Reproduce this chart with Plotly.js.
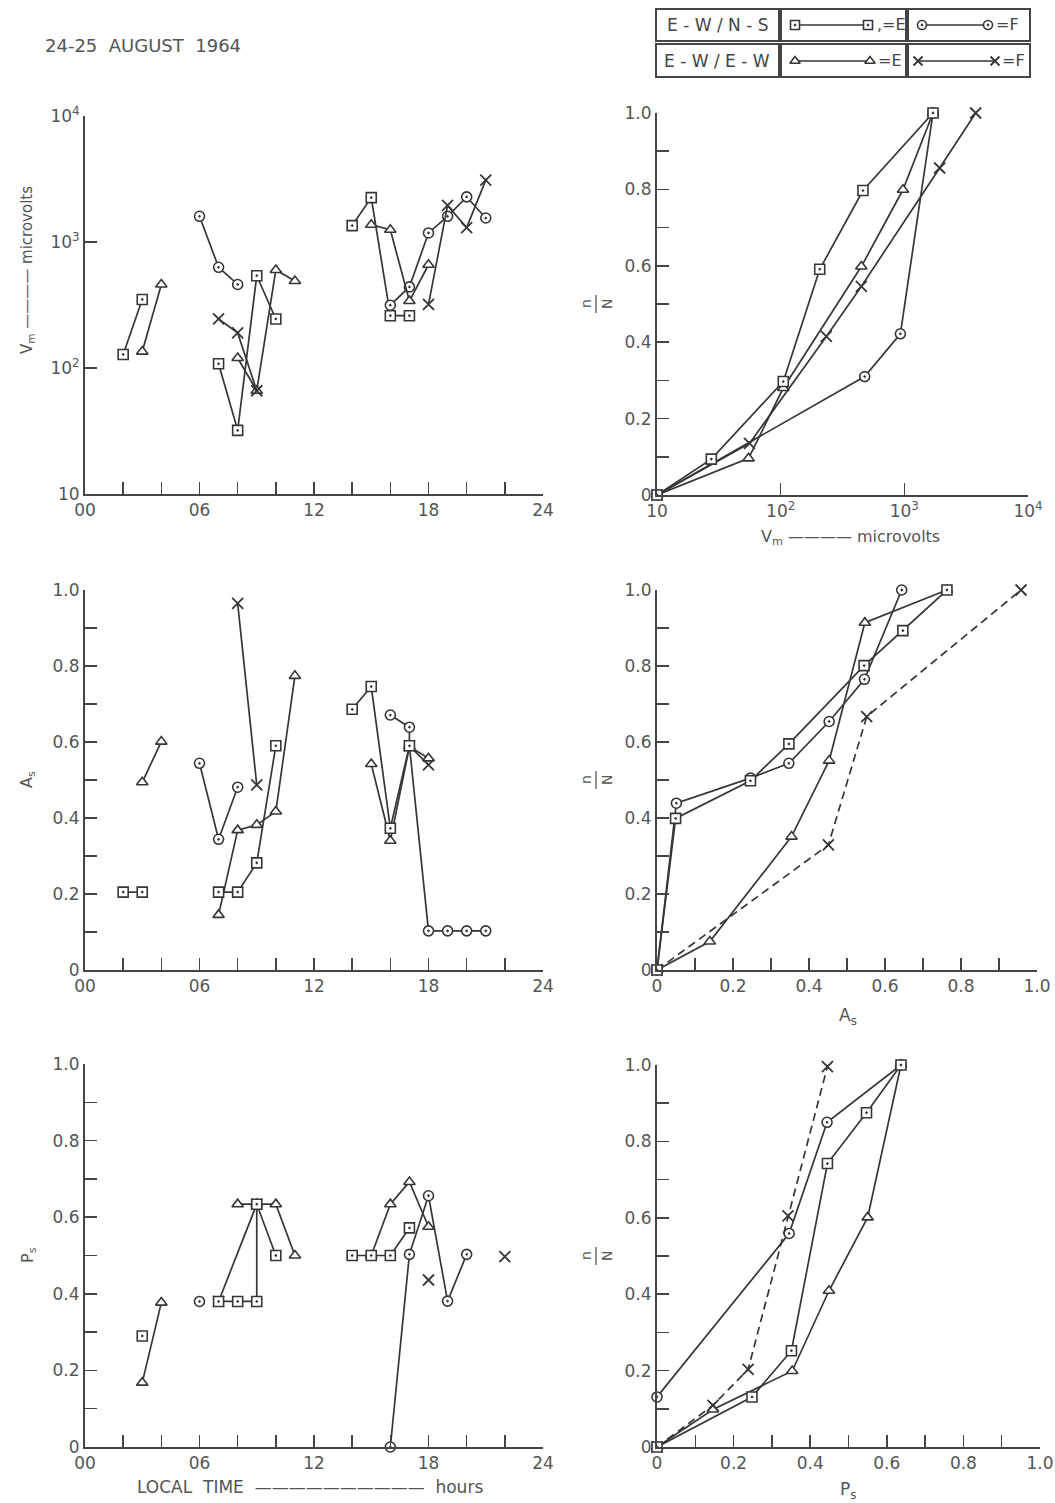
<!DOCTYPE html>
<html>
<head>
<meta charset="utf-8">
<script src="https://cdn.plot.ly/plotly-3.0.1.min.js"></script>
<style>html,body{margin:0;padding:0;background:#fff}#chart{width:1055px;height:1503px}</style>
</head>
<body>
<div id="chart"></div>
<script>
// ---------------- DATA ----------------
// Panel 1: Vm (microvolts) vs local time (hours); null = break between runs
const vmSqHours = [2, 3, null, 7, 8, 9, 10, null, 14, 15, 16, 17];
const vmSqVals  = [128, 350, null, 108, 32, 540, 245, null, 1350, 2250, 260, 260];
const vmCiHours = [6, 7, 8, null, 16, 17, 18, 19, 20, 21];
const vmCiVals  = [1600, 630, 460, null, 315, 440, 1180, 1600, 2280, 1550];
const vmTrHours = [3, 4, null, 8, 9, 10, 11, null, 15, 16, 17, 18];
const vmTrVals  = [135, 460, null, 120, 66, 600, 490, null, 1370, 1250, 340, 660];
const vmXHours  = [7, 8, 9, null, 18, 19, 20, 21];
const vmXVals   = [245, 190, 66, null, 320, 1950, 1300, 3100];

// Panel 2: cumulative n/N vs Vm
const cdfVmSqX = [10, 27.5, 105, 207, 463, 1706];
const cdfVmSqY = [0, 0.094, 0.297, 0.591, 0.797, 1.0];
const cdfVmCiX = [10, 478, 929, 1706];
const cdfVmCiY = [0, 0.31, 0.422, 1.0];
const cdfVmTrX = [10, 55, 105, 449, 975, 1706];
const cdfVmTrY = [0, 0.096, 0.28, 0.598, 0.799, 1.0];
const cdfVmXX  = [10, 56, 234, 449, 1930, 3775];
const cdfVmXY  = [0, 0.135, 0.415, 0.546, 0.856, 1.0];

// Panel 3: As vs local time
const asSqHours = [2, 3, null, 7, 8, 9, 10, null, 14, 15, 16, 17];
const asSqVals  = [0.205, 0.205, null, 0.205, 0.205, 0.282, 0.59, null, 0.686, 0.746, 0.373, 0.59];
const asCiHours = [6, 7, 8, null, 16, 17, 17, 18, 19, 20, 21];
const asCiVals  = [0.544, 0.344, 0.481, null, 0.671, 0.639, 0.59, 0.103, 0.103, 0.103, 0.103];
const asTrHours = [3, 4, null, 7, 8, 9, 10, 11, null, 15, 16, 17, 18];
const asTrVals  = [0.494, 0.601, null, 0.145, 0.368, 0.382, 0.417, 0.774, null, 0.542, 0.34, 0.588, 0.557];
const asXHours  = [8, 9, null, 17, 18];
const asXVals   = [0.965, 0.487, null, 0.59, 0.54];

// Panel 4: cumulative n/N vs As
const cdfAsSqX = [0, 0.049, 0.246, 0.347, 0.545, 0.647, 0.763];
const cdfAsSqY = [0, 0.399, 0.498, 0.595, 0.801, 0.893, 1.0];
const cdfAsCiX = [0, 0.051, 0.246, 0.347, 0.453, 0.546, 0.644];
const cdfAsCiY = [0, 0.439, 0.505, 0.544, 0.654, 0.765, 1.0];
const cdfAsTrX = [0, 0.139, 0.354, 0.453, 0.547, 0.763];
const cdfAsTrY = [0, 0.075, 0.351, 0.551, 0.914, 1.0];
const cdfAsXX  = [0, 0.451, 0.552, 0.958];
const cdfAsXY  = [0, 0.329, 0.667, 1.0];

// Panel 5: Ps vs local time
const psSqHours = [3, null, 7, 8, 9, 9, 10, null, 14, 15, 16, 17];
const psSqVals  = [0.29, null, 0.38, 0.38, 0.38, 0.634, 0.5, null, 0.5, 0.5, 0.5, 0.572];
const psCiHours = [6, null, 16, 17, 18, 19, 20];
const psCiVals  = [0.38, null, 0, 0.503, 0.656, 0.381, 0.503];
const psTrHours = [3, 4, null, 8, 9, 10, 11, null, 15, 16, 17, 18];
const psTrVals  = [0.168, 0.377, null, 0.634, 0.634, 0.634, 0.5, null, 0.5, 0.634, 0.692, 0.575];
const psXHours  = [7, 9, null, 18, null, 22];
const psXVals   = [0.38, 0.634, null, 0.436, null, 0.497];

// Panel 6: cumulative n/N vs Ps
const cdfPsSqX = [0, 0.248, 0.351, 0.445, 0.547, 0.637];
const cdfPsSqY = [0, 0.131, 0.252, 0.742, 0.875, 1.0];
const cdfPsCiX = [0, 0.345, 0.444, 0.637];
const cdfPsCiY = [0.131, 0.559, 0.85, 1.0];
const cdfPsTrX = [0, 0.146, 0.353, 0.449, 0.55, 0.637];
const cdfPsTrY = [0, 0.098, 0.199, 0.409, 0.601, 1.0];
const cdfPsXX  = [0, 0.146, 0.238, 0.342, 0.445];
const cdfPsXY  = [0, 0.109, 0.203, 0.605, 0.996];

// Tick values and labels
const hourMajor  = [0, 6, 12, 18, 24];
const hourLabels = ['00', '06', '12', '18', '24'];
const hourMinor  = [2, 4, 8, 10, 14, 16, 20, 22];
const fracMajor  = [0, 0.2, 0.4, 0.6, 0.8, 1.0];
const fracLabels = ['0', '0.2', '0.4', '0.6', '0.8', '1.0'];
const fracMinor  = [0.1, 0.3, 0.5, 0.7, 0.9];
const logTicks   = [10, 100, 1000, 10000];
const logLabels  = ['10', '10<sup>2</sup>', '10<sup>3</sup>', '10<sup>4</sup>'];

// ---------------- STYLE / LAYOUT ----------------
const W = 1055, H = 1503;
const INK = '#363636';
const TXT = '#555555';
const FONT = 'DejaVu Sans, Liberation Sans, sans-serif';
const fx = p => p / W;
const fy = p => 1 - p / H;

const mk = {
  sq: {symbol: 'square-dot', size: 10, color: 'white', line: {color: INK, width: 1.6}},
  ci: {symbol: 'circle-dot', size: 10, color: 'white', line: {color: INK, width: 1.6}},
  tr: {symbol: 'triangle-up', size: 10, color: 'white', line: {color: INK, width: 1.6}},
  xx: {symbol: 'x-thin', size: 11, color: INK, line: {color: INK, width: 1.8}}
};

function tr(x, y, m, ax, dash) {
  return {
    type: 'scatter', mode: 'lines+markers', x: x, y: y,
    xaxis: ax[0], yaxis: ax[1], cliponaxis: false, connectgaps: false,
    line: {color: INK, width: 1.7, dash: dash || 'solid'},
    marker: mk[m], hoverinfo: 'skip', showlegend: false
  };
}

const data = [
  // panel 1
  tr(vmSqHours, vmSqVals, 'sq', ['x', 'y']),
  tr(vmCiHours, vmCiVals, 'ci', ['x', 'y']),
  tr(vmTrHours, vmTrVals, 'tr', ['x', 'y']),
  tr(vmXHours, vmXVals, 'xx', ['x', 'y']),
  // panel 2
  tr(cdfVmCiX, cdfVmCiY, 'ci', ['x2', 'y2']),
  tr(cdfVmTrX, cdfVmTrY, 'tr', ['x2', 'y2']),
  tr(cdfVmXX, cdfVmXY, 'xx', ['x2', 'y2']),
  tr(cdfVmSqX, cdfVmSqY, 'sq', ['x2', 'y2']),
  // panel 3
  tr(asCiHours, asCiVals, 'ci', ['x3', 'y3']),
  tr(asTrHours, asTrVals, 'tr', ['x3', 'y3']),
  tr(asXHours, asXVals, 'xx', ['x3', 'y3']),
  tr(asSqHours, asSqVals, 'sq', ['x3', 'y3']),
  // panel 4
  tr(cdfAsCiX, cdfAsCiY, 'ci', ['x4', 'y4']),
  tr(cdfAsTrX, cdfAsTrY, 'tr', ['x4', 'y4']),
  tr(cdfAsXX, cdfAsXY, 'xx', ['x4', 'y4'], '8px,5px'),
  tr(cdfAsSqX, cdfAsSqY, 'sq', ['x4', 'y4']),
  // panel 5
  tr(psCiHours, psCiVals, 'ci', ['x5', 'y5']),
  tr(psTrHours, psTrVals, 'tr', ['x5', 'y5']),
  tr(psXHours, psXVals, 'xx', ['x5', 'y5']),
  tr(psSqHours, psSqVals, 'sq', ['x5', 'y5']),
  // panel 6
  tr(cdfPsCiX, cdfPsCiY, 'ci', ['x6', 'y6']),
  tr(cdfPsTrX, cdfPsTrY, 'tr', ['x6', 'y6']),
  tr(cdfPsXX, cdfPsXY, 'xx', ['x6', 'y6'], '8px,5px'),
  tr(cdfPsSqX, cdfPsSqY, 'sq', ['x6', 'y6'])
];

// Legend glyphs (drawn on a hidden pixel-like axis over the legend box)
const legGlyphs = [
  {m: 'sq', x: [795, 868], y: [25, 25]},
  {m: 'ci', x: [922, 988], y: [25, 25]},
  {m: 'tr', x: [795, 870], y: [61, 61]},
  {m: 'xx', x: [918, 995], y: [61, 61]}
];
legGlyphs.forEach(g => {
  const t = tr(g.x, g.y, g.m, ['x7', 'y7']);
  t.marker = Object.assign({}, t.marker, {size: 9});
  data.push(t);
});

const tickFont = {family: FONT, size: 17, color: TXT};
const minorStyle = {ticks: 'inside', ticklen: 12, tickwidth: 1.5, tickcolor: '#444', showgrid: false};
function baseAx(extra) {
  return Object.assign({
    showline: true, linecolor: '#444', linewidth: 2,
    ticks: 'inside', ticklen: 12, tickwidth: 1.5, tickcolor: '#444',
    showgrid: false, zeroline: false, mirror: false, fixedrange: true,
    tickfont: tickFont, tickmode: 'array'
  }, extra);
}
function hourX(anchor) {
  return baseAx({domain: [fx(85), fx(543)], range: [0, 24], anchor: anchor,
    tickvals: hourMajor, ticktext: hourLabels,
    minor: Object.assign({tickmode: 'array', tickvals: hourMinor}, minorStyle)});
}
function fracX(anchor) {
  return baseAx({domain: [fx(657), fx(1037)], range: [0, 1], anchor: anchor,
    tickvals: fracMajor, ticktext: fracLabels,
    minor: Object.assign({tickmode: 'array', tickvals: fracMinor}, minorStyle)});
}
function fracY(anchor, top, bot) {
  return baseAx({domain: [fy(bot), fy(top)], range: [0, 1], anchor: anchor,
    tickvals: fracMajor, ticktext: fracLabels,
    minor: Object.assign({tickmode: 'array', tickvals: fracMinor}, minorStyle)});
}

const layout = {
  width: W, height: H,
  margin: {l: 0, r: 0, t: 0, b: 0},
  paper_bgcolor: '#fff', plot_bgcolor: 'rgba(0,0,0,0)',
  font: {family: FONT, color: TXT},
  showlegend: false,
  xaxis: hourX('y'),
  yaxis: baseAx({domain: [fy(494), fy(116)], type: 'log', range: [1, 4], anchor: 'x',
    tickvals: logTicks, ticktext: logLabels}),
  xaxis2: baseAx({domain: [fx(657), fx(1028)], type: 'log', range: [1, 4], anchor: 'y2',
    tickvals: logTicks, ticktext: logLabels}),
  yaxis2: fracY('x2', 113, 495),
  xaxis3: hourX('y3'),
  yaxis3: fracY('x3', 590, 970),
  xaxis4: fracX('y4'),
  yaxis4: fracY('x4', 590, 970),
  xaxis5: hourX('y5'),
  yaxis5: fracY('x5', 1064, 1447),
  xaxis6: Object.assign(fracX('y6'), {domain: [fx(657), fx(1040)]}),
  yaxis6: fracY('x6', 1065, 1447),
  xaxis7: {domain: [fx(656), fx(1030)], range: [656, 1030], anchor: 'y7', visible: false, fixedrange: true},
  yaxis7: {domain: [fy(77), fy(9)], range: [77, 9], anchor: 'x7', visible: false, fixedrange: true},
  shapes: [],
  annotations: []
};

// Legend table boxes
const legRows = [[9, 41], [44, 77]];
const legCols = [[656, 779], [781, 906], [908, 1030]];
legRows.forEach(r => legCols.forEach(c => {
  layout.shapes.push({type: 'rect', xref: 'paper', yref: 'paper',
    x0: fx(c[0]), x1: fx(c[1]), y0: fy(r[1]), y1: fy(r[0]),
    line: {color: '#444', width: 2}, fillcolor: 'rgba(0,0,0,0)'});
}));

function ann(text, x, y, opts) {
  layout.annotations.push(Object.assign({
    text: text, xref: 'paper', yref: 'paper', x: fx(x), y: fy(y),
    showarrow: false, xanchor: 'center', yanchor: 'middle',
    font: {family: FONT, size: 16, color: TXT}
  }, opts || {}));
}

// Legend texts
ann('E - W / N - S', 717, 25, {font: {family: FONT, size: 17, color: '#444'}});
ann('E - W / E - W', 717, 61, {font: {family: FONT, size: 17, color: '#444'}});
ann(',=E', 875, 25, {xanchor: 'left', font: {family: FONT, size: 16, color: '#444'}});
ann('=F', 994, 25, {xanchor: 'left', font: {family: FONT, size: 16, color: '#444'}});
ann('=E', 876, 61, {xanchor: 'left', font: {family: FONT, size: 16, color: '#444'}});
ann('=F', 1000, 61, {xanchor: 'left', font: {family: FONT, size: 16, color: '#444'}});

// Title
ann('24-25  AUGUST  1964', 143, 45, {font: {family: FONT, size: 18, color: TXT}});

// Left y-axis titles
ann('V<sub>m</sub> ———— microvolts', 28, 270, {textangle: -90, font: {family: FONT, size: 15, color: TXT}});
ann('A<sub>s</sub>', 28, 780, {textangle: -90, font: {family: FONT, size: 16, color: TXT}});
ann('P<sub>s</sub>', 28, 1255, {textangle: -90, font: {family: FONT, size: 16, color: TXT}});

// Right y-axis titles: n over N, rotated
[304, 780, 1256].forEach(yc => {
  ann('n', 586, yc, {textangle: -90, font: {family: FONT, size: 14, color: TXT}});
  ann('N', 607, yc, {textangle: -90, font: {family: FONT, size: 14, color: TXT}});
  layout.shapes.push({type: 'line', xref: 'paper', yref: 'paper',
    x0: fx(596), x1: fx(596), y0: fy(yc + 9), y1: fy(yc - 9),
    line: {color: TXT, width: 1.3}});
});

// X-axis titles
ann('V<sub>m</sub> ———— microvolts', 850, 537, {font: {family: FONT, size: 16, color: TXT}});
ann('A<sub>s</sub>', 848, 1016, {font: {family: FONT, size: 17, color: TXT}});
ann('P<sub>s</sub>', 848, 1490, {font: {family: FONT, size: 17, color: TXT}});
ann('LOCAL  TIME  ——————————  hours', 310, 1487, {font: {family: FONT, size: 17, color: TXT}});

Plotly.newPlot('chart', data, layout, {staticPlot: true, displayModeBar: false});
</script>
</body>
</html>
